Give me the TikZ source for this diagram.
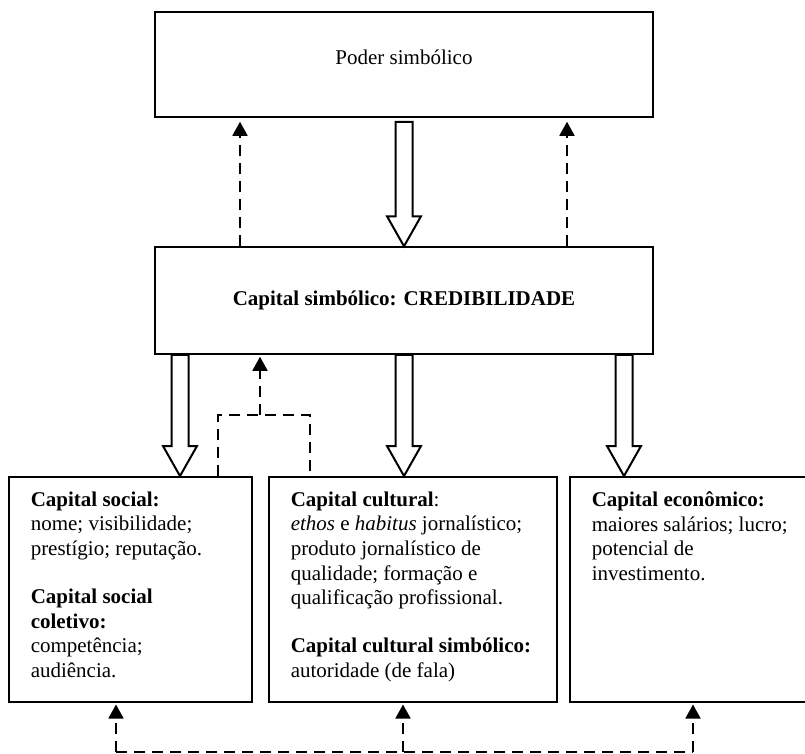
\documentclass[tikz,border=0pt]{standalone}
\usepackage{fontspec}
\setmainfont{Liberation Serif}
\usetikzlibrary{arrows.meta,calc}

\newcommand{\fatarrow}[4][0pt]{%
  \draw[line width=2pt,fill=white] let \p1=(#2 -| #4), \p2=(#3 -| #4) in
    (\x1-8.5pt,\y1-#1) -- (\x1+8.5pt,\y1-#1) -- (\x1+8.5pt,\y2+30pt)
    -- (\x1+17pt,\y2+30pt) -- (\p2) -- (\x1-17pt,\y2+30pt)
    -- (\x1-8.5pt,\y2+30pt) -- cycle;}

\begin{document}
\begin{tikzpicture}[x=1pt,y=-1pt,font=\fontsize{21}{24.6}\selectfont,
    capbox/.style={draw,line width=1.5pt},
    txtbox/.style={capbox,anchor=north west,inner xsep=22pt,inner ysep=15pt},
    dline/.style={line width=1.8pt,dash pattern=on 11pt off 7pt},
    darrow/.style={dline,-{Triangle[length=14pt,width=15pt]}}]
      \useasboundingbox (0,0) rectangle (805,753);

      \node[capbox,minimum width=498pt,minimum height=105pt,text height=10pt,text depth=10pt] (1) at (404,64.5) {Poder simbólico};
      \node[capbox,minimum width=498pt,minimum height=107pt,text height=14pt,text depth=5pt,font=\fontsize{21}{24.6}\selectfont\bfseries] (2) at (404,300.5) {Capital simbólico: CREDIBILIDADE};
      \node[txtbox] (3) at (8,476) {\parbox[t][195pt][t]{199pt}{\raggedright
        \textbf{Capital social:}\\ nome; visibilidade;\\ prestígio; reputação.\\[23.5pt]
        \textbf{Capital social}\\ \textbf{coletivo:}\\ competência;\\ audiência.}};
      \node[txtbox] (4) at (268,476) {\parbox[t][195pt][t]{244pt}{\raggedright
        \textbf{Capital cultural}:\\ \textit{ethos} e \textit{habitus} jornalístico;\\ produto jornalístico de\\ qualidade; formação e\\ qualificação profissional.\\[23.5pt]
        \textbf{Capital cultural simbólico:}\\ autoridade (de fala)}};
      \node[txtbox] (5) at (569,476) {\parbox[t][195pt][t]{201pt}{\raggedright
        \textbf{Capital econômico:}\\ maiores salários; lucro;\\ potencial de\\ investimento.}};

      \fatarrow[4pt]{1.south}{2.north}{404,0}
      \fatarrow{2.south}{3.north}{180,0}
      \fatarrow{2.south}{4.north}{404,0}
      \fatarrow{2.south}{5.north}{624,0}

      \draw[darrow,shorten >=4pt] (2.north -| 240,0) -- (1.south -| 240,0);
      \draw[darrow,shorten >=4pt] (2.north -| 567,0) -- (1.south -| 567,0);

      \coordinate (6) at (260,415);
      \draw[dline] (3.north -| 218,0) |- (6) -| (4.north -| 310,0);
      \draw[darrow,shorten >=2pt] (6) -- (2.south -| 6);

      \coordinate (7) at (116,752);
      \coordinate (8) at (403,752);
      \coordinate (9) at (693,752);
      \draw[dline,line width=1.2pt] (7) -- (9);
      \foreach \n/\b in {7/3,8/4,9/5}
        \draw[darrow,shorten >=2pt] (\n) -- (\b.south -| \n);
    \end{tikzpicture}
\end{document}
